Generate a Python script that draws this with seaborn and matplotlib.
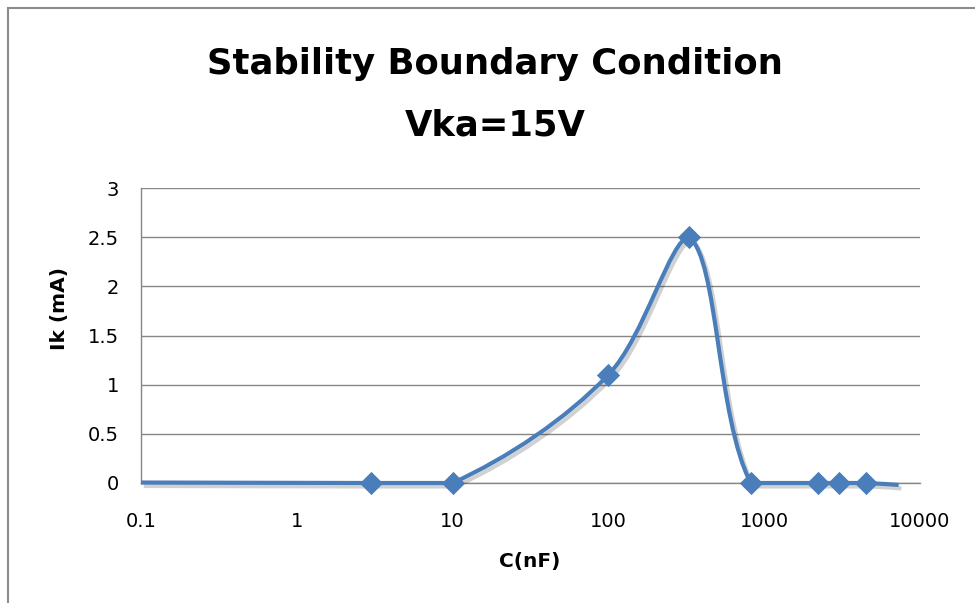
import numpy as np
import matplotlib
matplotlib.use("Agg")
import matplotlib.pyplot as plt
import matplotlib.patheffects as pe
from matplotlib.path import Path
from matplotlib.patches import PathPatch, Rectangle
from matplotlib.ticker import FixedLocator, FixedFormatter, NullLocator
import seaborn as sns
from pandas import DataFrame

# line data (Excel smoothed scatter); end points carry no marker
cap_nf = [0.1, 3, 10, 100, 330, 820, 2200, 3000, 4500, 7300]
ik_ma = [0.005, 0.0, 0.0, 1.1, 2.5, 0.0, 0.0, 0.0, 0.0, -0.02]
has_marker = [False, True, True, True, True, True, True, True, True, False]

x_ticks = [0.1, 1, 10, 100, 1000, 10000]
x_tick_labels = ["0.1", "1", "10", "100", "1000", "10000"]
y_ticks = [0, 0.5, 1, 1.5, 2, 2.5, 3]
y_tick_labels = ["0", "0.5", "1", "1.5", "2", "2.5", "3"]

BLUE = "#4A7EBB"
GRID = "#868686"

sns.set_style("white")
plt.rcParams["font.family"] = ["DejaVu Sans"]
plt.rcParams["text.color"] = "black"

W, H = 975, 603
L, R, T, B = 141, 920, 188, 483
fig = plt.figure(figsize=(W / 100, H / 100), dpi=100)
ax = fig.add_axes([L / W, 1 - B / H, (R - L) / W, (B - T) / H])

ax.set_xscale("log")
ax.set_xlim(0.1, 10000)
ax.set_ylim(0, 3)

# smoothed line: cubic Bezier segments, control points worked out in screen space
# (length-weighted Catmull-Rom, handles clamped so a segment never overshoots its ends)
sx = (R - L) / 5
sy = (B - T) / 3
px = (np.log10(cap_nf) + 1) * sx
py = np.array(ik_ma) * sy
pts = np.column_stack([px, py])
n = len(pts)
verts = [pts[0]]
codes = [Path.MOVETO]
for i in range(n - 1):
    p0 = pts[max(i - 1, 0)]
    p1 = pts[i]
    p2 = pts[i + 1]
    p3 = pts[min(i + 2, n - 1)]
    d01 = np.hypot(*(p1 - p0))
    d12 = np.hypot(*(p2 - p1))
    d23 = np.hypot(*(p3 - p2))
    f1 = d12 / (d01 + d12) / 3 if d01 > 0 else 1 / 6
    f2 = d12 / (d12 + d23) / 3 if d23 > 0 else 1 / 6
    c1 = p1 + (p2 - p0) * f1
    c2 = p2 - (p3 - p1) * f2
    lo, hi = min(p1[1], p2[1]), max(p1[1], p2[1])
    c1[1] = np.clip(c1[1], lo, hi)
    c2[1] = np.clip(c2[1], lo, hi)
    verts += [c1, c2, p2]
    codes += [Path.CURVE4] * 3
verts = [(10 ** (vx / sx - 1), vy / sy) for vx, vy in verts]
curve = PathPatch(Path(verts, codes), facecolor="none", edgecolor=BLUE, lw=3.0,
                  capstyle="butt", joinstyle="round", zorder=3, clip_on=False,
                  path_effects=[pe.SimpleLineShadow(offset=(2, -2.5), alpha=0.18), pe.Normal()])
ax.add_patch(curve)

df = DataFrame({"C": cap_nf, "Ik": ik_ma, "m": has_marker})
sns.scatterplot(data=df[df["m"]], x="C", y="Ik", marker="D", s=140, color=BLUE,
                edgecolor=BLUE, linewidth=0, zorder=4, clip_on=False, ax=ax)

ax.xaxis.set_major_locator(FixedLocator(x_ticks))
ax.xaxis.set_major_formatter(FixedFormatter(x_tick_labels))
ax.xaxis.set_minor_locator(NullLocator())
ax.yaxis.set_major_locator(FixedLocator(y_ticks))
ax.yaxis.set_major_formatter(FixedFormatter(y_tick_labels))
ax.tick_params(axis="both", length=0, labelsize=14, colors="#000000")
ax.tick_params(axis="x", pad=21)
ax.tick_params(axis="y", pad=16)

ax.grid(axis="y", color=GRID, lw=1)
ax.set_axisbelow(True)
for side in ["top", "right"]:
    ax.spines[side].set_visible(False)
for side in ["left", "bottom"]:
    ax.spines[side].set_color(GRID)
    ax.spines[side].set_linewidth(1)

ax.set_xlabel("")
ax.set_ylabel("")
fig.text(530 / W, 1 - 562 / H, "C(nF)", ha="center", va="center",
         fontsize=14.5, fontweight="bold")
fig.text(59 / W, 1 - 308 / H, "Ik (mA)", ha="center", va="center", rotation=90,
         fontsize=14.5, fontweight="bold")

fig.text(495 / W, 1 - 64 / H, "Stability Boundary Condition", ha="center", va="center",
         fontsize=25.5, fontweight="bold")
fig.text(495 / W, 1 - 126 / H, "Vka=15V", ha="center", va="center",
         fontsize=25.5, fontweight="bold")

# outer chart frame
fig.patches.append(Rectangle((8 / W, -0.1), 1.2, 1 - 8 / H + 0.1, transform=fig.transFigure,
                             facecolor="none", edgecolor="#8C8C8C", lw=1.5))

fig.savefig("out.png", dpi=100)
